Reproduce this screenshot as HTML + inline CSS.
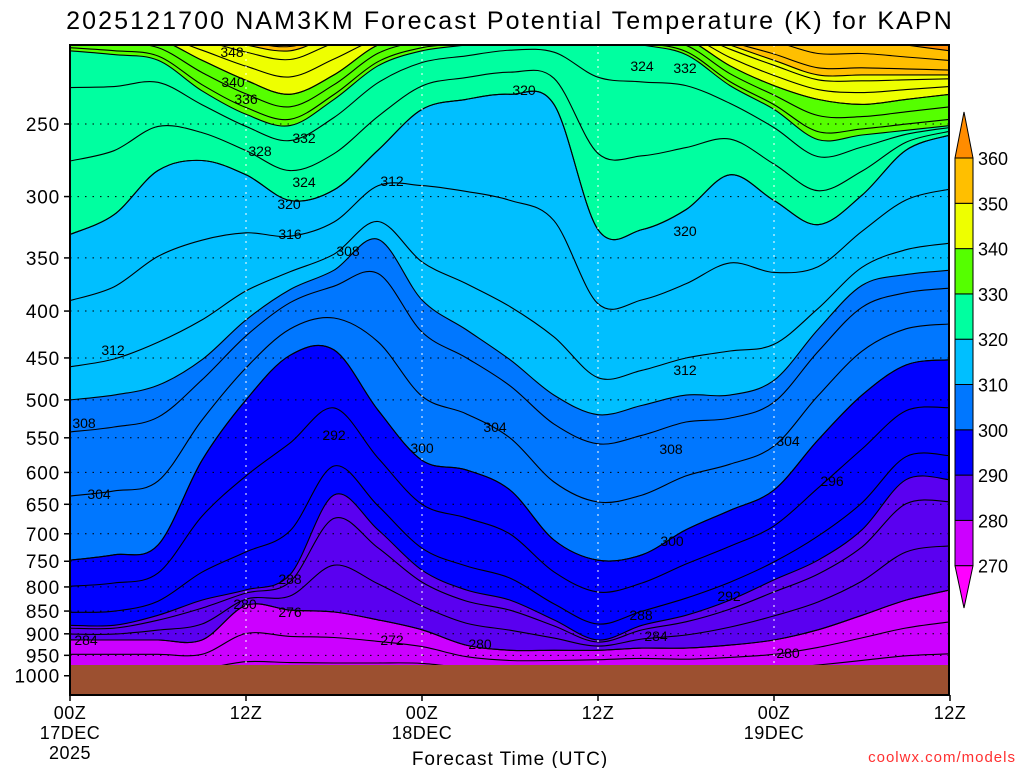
<!DOCTYPE html>
<html><head><meta charset="utf-8"><style>
html,body{margin:0;padding:0;background:#fff;}
svg{display:block;font-family:"Liberation Sans","DejaVu Sans",sans-serif;}
</style></head><body>
<svg id="chart" width="1024" height="768" viewBox="0 0 1024 768" xmlns="http://www.w3.org/2000/svg">
<text x="510" y="29" text-anchor="middle" font-size="25" letter-spacing="2.1" fill="#000">2025121700 NAM3KM Forecast Potential Temperature (K) for KAPN</text>
<defs><clipPath id="plotclip"><rect x="70" y="45" width="879" height="650"/></clipPath></defs>
<g id="fills" clip-path="url(#plotclip)"></g>
<g id="lines" clip-path="url(#plotclip)"></g>
<g id="grid"></g>
<rect id="ground" x="70" y="665" width="879" height="30" fill="#9c5030"/>
<g id="clabels" font-size="14" fill="#000"></g>
<g id="axes"></g>
<g id="cbar"></g>
<text x="510" y="765" text-anchor="middle" font-size="19" letter-spacing="1">Forecast Time (UTC)</text>
<text x="1016" y="762" text-anchor="end" font-size="15" fill="#ff3030" letter-spacing="1">coolwx.com/models</text>
</svg>
<script>
const hours=[0,3,6,9,12,15,18,21,24,27,30,33,36,39,42,45,48,51,54,57,60];
const levels=[270,280,290,300,310,320,330,340,350,360];
const b270=[1000,1000,1000,1000,1000,1000,1000,995,990,995,1000,1000,995,995,1000,1000,1000,995,990,985,985];
const b280=[914,914,914,914,838,848,852,869,891,926,938,938,938,933,933,926,914,891,859,827,806];
const b290=[881,881,859,827,806,776,635,693,767,806,827,869,914,881,859,827,786,748,693,611,611];
const b300=[748,738,720,582,500,447,441,513,582,596,627,711,748,738,693,660,627,553,494,458,452];
const b310=[500,494,482,452,409,379,361,334,389,419,452,494,519,507,494,494,476,419,375,365,361];
const b320=[330,314,281,274,284,303,295,267,241,235,232,238,326,326,310,284,303,322,299,267,257];
const b330=[208,210,213,230,244,251,235,216,208,205,202,202,202,205,210,227,241,260,257,254,251];
const b340=[200,200,202,213,224,232,221,205,200,200,200,200,200,200,202,216,227,235,238,235,232];
const b350=[197,197,197,200,205,208,200,197,197,197,197,197,197,197,197,205,213,221,221,221,221];
const b360=[197,197,197,197,197,197,197,197,197,197,197,197,197,197,197,197,197,202,202,205,208];
const bounds=[b270,b280,b290,b300,b310,b320,b330,b340,b350,b360];
const colors=["#ff00ff","#cc00ff","#5a00f0","#0000ff","#0077ff","#00bfff","#00ffa0","#55ff00","#eeff00","#ffbf00","#ff8c00"];
const pTicks=[250,300,350,400,450,500,550,600,650,700,750,800,850,900,950,1000];
const xTicks=[["00Z","17DEC","2025"],["12Z"],["00Z","18DEC"],["12Z"],["00Z","19DEC"],["12Z"]];
const cbLabels=[270,280,290,300,310,320,330,340,350,360];

const NS="http://www.w3.org/2000/svg";
const X0=70,X1=950,Y250=124,K=398;
const xs=h=>X0+(X1-X0)*h/60;
const ys=p=>Y250+K*Math.log(p/250);
function mk(tag,attrs,parent){const e=document.createElementNS(NS,tag);for(const k in attrs)e.setAttribute(k,attrs[k]);parent.appendChild(e);return e;}
function smoothPath(pts){let d="M"+pts[0][0]+","+pts[0][1];
 for(let i=0;i<pts.length-1;i++){const p0=pts[Math.max(0,i-1)],p1=pts[i],p2=pts[i+1],p3=pts[Math.min(pts.length-1,i+2)];
 const c1=[p1[0]+(p2[0]-p0[0])/6,p1[1]+(p2[1]-p0[1])/6],c2=[p2[0]-(p3[0]-p1[0])/6,p2[1]-(p3[1]-p1[1])/6];
 d+=" C"+c1[0].toFixed(1)+","+c1[1].toFixed(1)+" "+c2[0].toFixed(1)+","+c2[1].toFixed(1)+" "+p2[0].toFixed(1)+","+p2[1].toFixed(1);}
 return d;}
function curve(arr){return hours.map((h,i)=>[xs(h),ys(arr[i])]);}

const fills=document.getElementById('fills');
const bg=mk('rect',{x:70,y:40,width:880,height:660,fill:colors[10]},fills);


for(let k=bounds.length-1;k>=0;k--){
  const pts=curve(bounds[k]);
  const d=smoothPath(pts)+" L960,"+pts[pts.length-1][1]+" L960,720 L60,720 L60,"+pts[0][1]+" Z";
  const el=mk('path',{d:d,fill:colors[k],stroke:"none"},fills);
  
  
}
const lines=document.getElementById('lines');
for(let L=272;L<=358;L+=4){
  const k=Math.floor((L-270)/10);if(k>=bounds.length-1)continue;
  const f=(L-levels[k])/10,lo=bounds[k],hi=bounds[k+1];
  const arr=lo.map((v,i)=>Math.exp(Math.log(v)+f*(Math.log(hi[i])-Math.log(v))));
  const el=mk('path',{d:smoothPath(curve(arr)),fill:"none",stroke:"#000","stroke-width":1.1},lines);
  
  
}
for(let k=0;k<bounds.length;k++){
  const el=mk('path',{d:smoothPath(curve(bounds[k])),fill:"none",stroke:"#000","stroke-width":1.1},lines);
  
  
}
const grid=document.getElementById('grid'),axes=document.getElementById('axes');
pTicks.forEach(p=>{const y=ys(p);
  const g=mk('line',{x1:70,x2:949,y1:y,y2:y,stroke:"#000","stroke-width":1,"stroke-dasharray":"1.5,6"},grid);
  
  mk('line',{x1:64,x2:70,y1:y,y2:y,stroke:"#000","stroke-width":1.5},axes);
  const t=mk('text',{x:60,y:y+7,"text-anchor":"end","font-size":19,"letter-spacing":"0.8"},axes);
  t.textContent=p;
});
xTicks.forEach((lab,i)=>{const x=xs(i*12);
  if(i>0&&i<5){const g=mk('line',{x1:x,x2:x,y1:45,y2:695,stroke:"#fff","stroke-width":1,"stroke-dasharray":"2,5"},grid);
   }
  mk('line',{x1:x,x2:x,y1:695,y2:701,stroke:"#000","stroke-width":1.5},axes);
  lab.forEach((s,j)=>{const t=mk('text',{x:x,y:719+j*20,"text-anchor":"middle","font-size":18,"letter-spacing":"0.5"},axes);
   t.textContent=s;});
});
const fr=mk('rect',{x:70,y:45,width:879,height:650,fill:"none",stroke:"#000","stroke-width":2},axes);

const cl=[[232,57,"348"],[233,87,"340"],[246,104,"336"],[304,143,"332"],[260,156,"328"],[304,187,"324"],[289,209,"320"],[290,239,"316"],[392,186,"312"],[348,256,"308"],[524,95,"320"],[642,71,"324"],[685,73,"332"],[685,236,"320"],[113,355,"312"],[685,375,"312"],[84,428,"308"],[495,432,"304"],[671,454,"308"],[788,446,"304"],[99,499,"304"],[334,440,"292"],[422,453,"300"],[672,546,"300"],[832,486,"296"],[729,601,"292"],[290,584,"288"],[245,609,"280"],[290,617,"276"],[86,645,"284"],[392,645,"272"],[480,649,"280"],[641,620,"288"],[656,641,"284"],[788,658,"280"]];
const cg=document.getElementById('clabels');
cl.forEach(c=>{const t=mk('text',{x:c[0],y:c[1],"text-anchor":"middle"},cg);t.textContent=c[2];
 });
const cb=document.getElementById('cbar'),cx0=955,cx1=973,top360=158,step=45.3;
const yc=v=>top360+(360-v)*step/10;
for(let k=1;k<=9;k++){const r=mk('rect',{x:cx0,y:yc(levels[k]),width:cx1-cx0,height:step,fill:colors[k],stroke:"#000","stroke-width":1},cb);
 }
const tu=mk('polygon',{points:cx0+","+top360+" "+cx1+","+top360+" "+((cx0+cx1)/2)+",112",fill:colors[10],stroke:"#000"},cb);

const td=mk('polygon',{points:cx0+","+yc(270)+" "+cx1+","+yc(270)+" "+((cx0+cx1)/2)+",608",fill:colors[0],stroke:"#000"},cb);

cbLabels.forEach(v=>{const t=mk('text',{x:978,y:yc(v)+7,"font-size":18},cb);t.textContent=v;
 });
</script>
</body></html>
